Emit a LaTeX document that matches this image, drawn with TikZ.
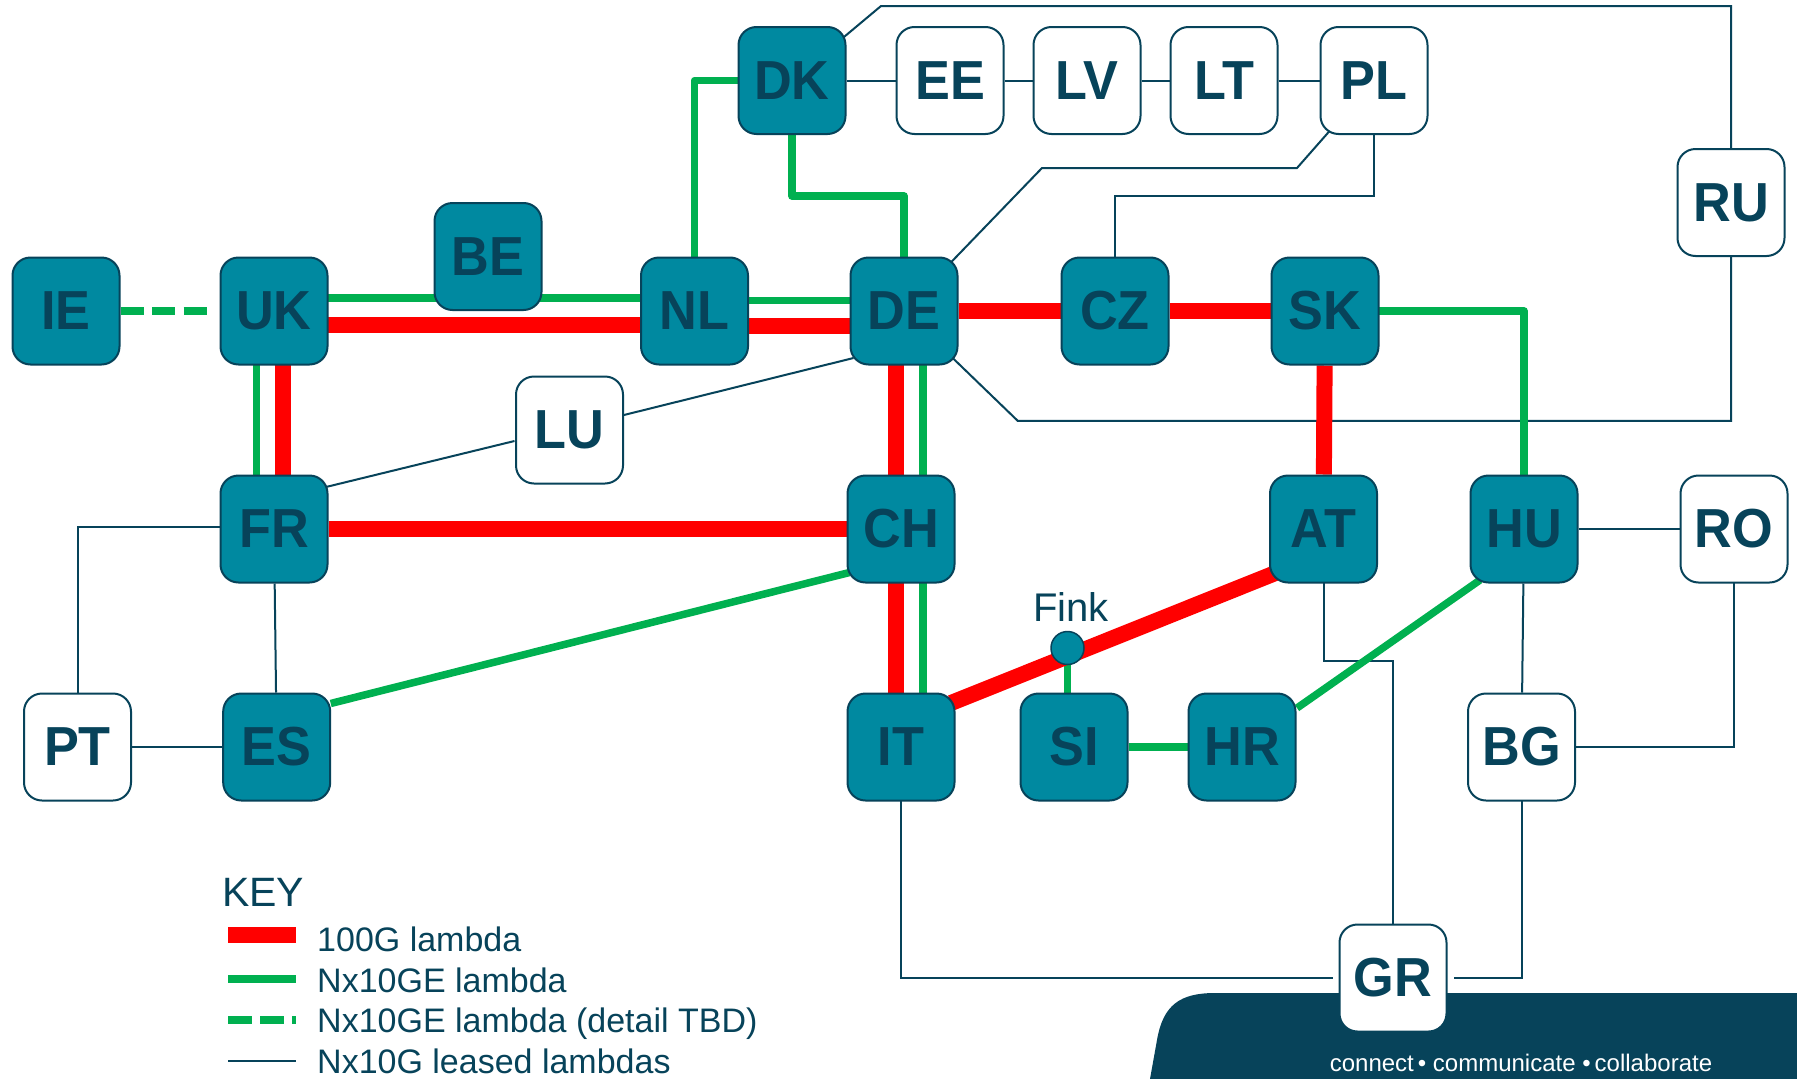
\documentclass[tikz,border=0pt]{standalone}
\usepackage{fontspec}
\setmainfont{Liberation Sans}
\newfontfamily\labfont[FakeStretch=0.95]{Liberation Sans}
\usetikzlibrary{calc,backgrounds}
\definecolor{geteal}{HTML}{0089A0}
\definecolor{gedark}{HTML}{07435A}
\definecolor{gered}{HTML}{FF0000}
\definecolor{gegreen}{HTML}{00B050}
\begin{document}
\begin{tikzpicture}[x=1pt,y=-1pt,
  box/.style={rounded corners=18pt, minimum width=107pt, minimum height=107pt, draw=gedark, line width=2pt, inner sep=0pt, font=\labfont\bfseries\fontsize{55}{60}\selectfont, text=gedark},
  core/.style={box, fill=geteal},
  edgebox/.style={box, fill=white},
  rline/.style={draw=gered, line width=16pt},
  gline/.style={draw=gegreen, line width=7.5pt, line join=round},
  gtbd/.style={draw=gegreen, line width=8.5pt, dash pattern=on 23pt off 8.5pt},
  leased/.style={draw=gedark, line width=2pt},
  legtext/.style={anchor=base west, inner sep=0pt, text=gedark, font=\fontsize{34}{40}\selectfont},
]
\useasboundingbox (0,0) rectangle (1797,1079);

% nodes
\node[core] (IE) at (66,311) {IE};
\node[core] (UK) at (274,311) {UK};
\node[core] (BE) at (488,256.5) {BE};
\node[core] (NL) at (694.5,311) {NL};
\node[core] (DE) at (904,311) {DE};
\node[core] (CZ) at (1115,311) {CZ};
\node[core] (SK) at (1325,311) {SK};
\node[core] (DK) at (792,80.5) {DK};
\node[edgebox] (EE) at (950,80.5) {EE};
\node[edgebox] (LV) at (1087,80.5) {LV};
\node[edgebox] (LT) at (1224,80.5) {LT};
\node[edgebox] (PL) at (1374,80.5) {PL};
\node[edgebox] (RU) at (1731,202.5) {RU};
\node[edgebox] (LU) at (569.5,430) {LU};
\node[core] (FR) at (274,529) {FR};
\node[core] (CH) at (901,529) {CH};
\node[core] (AT) at (1323.5,529) {AT};
\node[core] (HU) at (1524,529) {HU};
\node[edgebox] (RO) at (1734,529) {RO};
\node[edgebox] (PT) at (77.5,747) {PT};
\node[core] (ES) at (276.7,747) {ES};
\node[core] (IT) at (901,747) {IT};
\node[core] (SI) at (1074,747) {SI};
\node[core] (HR) at (1242,747) {HR};
\node[edgebox] (BG) at (1521.5,747) {BG};
\node[edgebox] (GR) at (1393,978) {GR};

\node[circle, fill=geteal, draw=gedark, line width=1.5pt, minimum size=33pt, inner sep=0pt] (Fink) at (1067.5,648) {};
\node[text=gedark, font=\fontsize{40}{44}\selectfont, inner sep=0pt] (finklbl) at (1071,607) {Fink};

\coordinate (dkru) at (881,6);
\coordinate (deru) at (1017.7,420.8);
\coordinate (plde1) at (1297,168);
\coordinate (plde2) at (1042,168);

% legend
\node[anchor=base west, inner sep=0pt, text=gedark, font=\fontsize{41}{44}\selectfont] (key) at (222,906.7) {KEY};
\draw[draw=gered, line width=16pt] (228,935) -- (296,935);
\draw[draw=gegreen, line width=8pt] (228,979) -- (296,979);
\draw[draw=gegreen, line width=8pt, dash pattern=on 24pt off 8pt] (228,1020) -- (296,1020);
\draw[leased] (228,1060.7) -- (296,1060.7);
\node[legtext] (l1) at (317,951.5) {100G lambda};
\node[legtext] (l2) at (317,992) {Nx10GE lambda};
\node[legtext] (l3) at (317,1032.5) {Nx10GE lambda (detail TBD)};
\node[legtext] (l4) at (317,1073) {Nx10G leased lambdas};

\node[anchor=base, inner sep=0pt, text=white, font=\fontsize{24}{26}\selectfont] (tag) at (1521,1071.7) {connect\,•\ communicate\ •\,collaborate};

\begin{scope}[on background layer]
\fill[white] (0,0) rectangle (1797,1079);
\fill[gedark] (1150,1079) -- (1157,1040) .. controls (1163,1005) and (1180,993) .. (1215,993) -- (1797,993) -- (1797,1079) -- cycle;
% leased lambdas
\draw[leased] (DK) -- (EE);
\draw[leased] (EE) -- (LV);
\draw[leased] (LV) -- (LT);
\draw[leased] (LT) -- (PL);
\draw[leased] (DK.center) -- (dkru) -| (RU.center);
\draw[leased] (DE.center) -- (deru) -| (RU.center);
\draw[leased] (PL.center) -- (plde1) -- (plde2) -- (DE.center);
\draw[leased] (PL.center) -- ($(PL)+(0,115)$) -| (CZ.center);
\draw[leased] ($(LU)+(54.5,-15)$) -- ($(DE)+(-50.5,47)$);
\draw[leased] ($(LU)+(-55,11)$) -- ($(FR)+(52,-42)$);
\draw[leased] ($(FR)+(0,-2)$) -| (PT.center);
\draw[leased] (FR) -- (ES);
\draw[leased] (PT) -- (ES);
\draw[leased] (HU) -- (RO);
\draw[leased] (HU) -- (BG);
\draw[leased] (RO.center) |- (BG.center);
\draw[leased, shorten >=6pt] (BG.center) |- (GR.east);
\draw[leased, shorten >=6pt] (IT.center) |- (GR.west);
\draw[leased] (AT.center) -- ($(AT)+(0,131.5)$) -| (GR.center);
% Nx10GE lambdas
\draw[gtbd, shorten >=8pt] (IE.east) -- (UK.west);
\draw[gline] ($(UK)+(0,-13)$) -- ($(BE)+(0,41.5)$);
\draw[gline] ($(BE)+(0,41.5)$) -- ($(NL)+(0,-13)$);
\draw[gline] ($(NL)+(0,-10.5)$) -- ($(DE)+(0,-10.5)$);
\draw[gline] (NL.center) |- (DK.center);
\draw[gline] (DK.center) -- ($(DK)+(0,115.5)$) -| (DE.center);
\draw[gline] ($(UK)+(-17.5,0)$) -- ($(FR)+(-17.5,0)$);
\draw[gline] ($(DE)+(19,0)$) -- ($(CH)+(22,0)$);
\draw[gline] ($(CH)+(22,0)$) -- ($(IT)+(22,0)$);
\draw[gline] (SK.center) -| (HU.center);
\draw[gline] ($(ES)+(54,-43.5)$) -- ($(CH)+(-51.5,43.5)$);
\draw[gline] ($(HU)+(-44,51)$) -- ($(HR)+(55,-39)$);
\draw[gline] (SI) -- (HR);
\draw[gline] (Fink.center) -- (Fink |- SI);
% 100G lambdas
\draw[rline] ($(UK)+(0,13.5)$) -- ($(NL)+(0,13.5)$);
\draw[rline] ($(NL)+(0,15)$) -- ($(DE)+(0,15)$);
\draw[rline] (DE) -- (CZ);
\draw[rline] (CZ) -- (SK);
\draw[rline] ($(UK)+(9,0)$) -- ($(FR)+(9,0)$);
\draw[rline] (FR) -- (CH);
\draw[rline] ($(DE)+(-8,0)$) -- ($(CH)+(-5,0)$);
\draw[rline] ($(CH)+(-5,0)$) -- ($(IT)+(-5,0)$);
\draw[rline] (SK) -- (AT);
\draw[rline] ($(AT)+(-48,44)$) -- ($(IT)+(50,-44)$);
\end{scope}
\end{tikzpicture}
\end{document}
